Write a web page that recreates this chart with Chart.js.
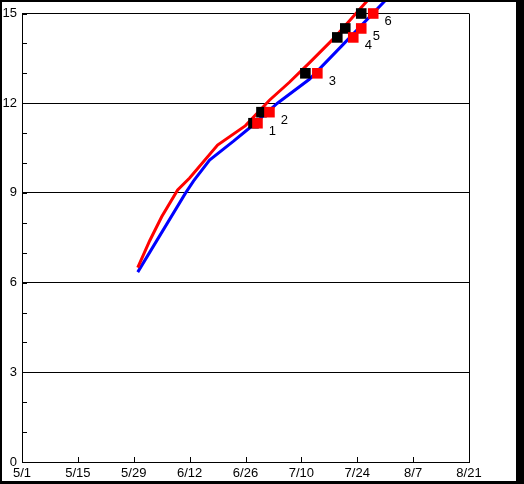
<!DOCTYPE html>
<html>
<head>
<meta charset="utf-8">
<script src="https://cdn.jsdelivr.net/npm/chart.js@4"></script>
<style>
  html, body { margin: 0; padding: 0; background: #000; }
  #chart { position: absolute; left: 2px; top: 2px; background: #fff; }
</style>
</head>
<body>
<canvas id="chart" width="514" height="479"></canvas>
<script>
// x axis runs in days counted from 5/1
const xTicks = ['5/1', '5/15', '5/29', '6/12', '6/26', '7/10', '7/24', '8/7', '8/21'];
const yTicks = [0, 3, 6, 9, 12, 15];

const blueDates = ['5/30', '6/11', '6/13', '6/17', '6/23', '6/27', '7/4', '7/12', '7/20', '8/1'];
const blueValues = [6.35, 9.0, 9.4, 10.1, 10.73, 11.17, 12.0, 12.8, 13.9, 15.57];

const redDates = ['5/30', '6/2', '6/5', '6/9', '6/12', '6/19', '6/26', '7/2', '7/7', '7/12', '7/18', '7/28'];
const redValues = [6.5, 7.4, 8.2, 9.1, 9.5, 10.6, 11.25, 12.1, 12.7, 13.35, 14.15, 15.65];

const blackMarkDates = ['6/28', '6/30', '7/11', '7/19', '7/21', '7/25'];
const redMarkDates = ['6/29', '7/2', '7/14', '7/23', '7/25', '7/28'];
const markValues = [11.33, 11.7, 13.0, 14.2, 14.5, 15.0];
const markLabels = ['1', '2', '3', '4', '5', '6'];

const monthStart = { 5: -1, 6: 30, 7: 60, 8: 91 };
function toDay(s) {
  const p = s.split('/');
  return monthStart[+p[0]] + (+p[1]);
}
function pts(dates, vals) {
  return dates.map((d, i) => ({ x: toDay(d), y: vals[i] }));
}

const font = { family: 'Liberation Sans', size: 13, lineHeight: 1 };

// short tick marks drawn inside the plot, and the number labels next to the red squares
const innerTicks = {
  id: 'innerTicks',
  afterDatasetsDraw(chart) {
    const ctx = chart.ctx, a = chart.chartArea;
    const xs = chart.scales.x, ys = chart.scales.y;
    ctx.save();
    ctx.strokeStyle = '#000';
    ctx.lineWidth = 1;
    ctx.beginPath();
    for (let v = 0; v <= 15; v++) {
      const y = Math.round(ys.getPixelForValue(v)) + 0.5;
      ctx.moveTo(a.left, y); ctx.lineTo(a.left + 5, y);
    }
    for (let i = 0; i < xTicks.length; i++) {
      const x = Math.round(xs.getPixelForValue(i * 14)) + 0.5;
      ctx.moveTo(x, a.bottom); ctx.lineTo(x, a.bottom - 5);
    }
    ctx.stroke();
    const meta = chart.getDatasetMeta(3);
    ctx.fillStyle = '#000';
    ctx.font = '13px "Liberation Sans"';
    ctx.textAlign = 'center';
    ctx.textBaseline = 'middle';
    meta.data.forEach((p, i) => {
      ctx.fillText(markLabels[i], p.x + 15, p.y + 8);
    });
    ctx.restore();
  }
};

new Chart(document.getElementById('chart').getContext('2d'), {
  type: 'scatter',
  data: {
    datasets: [{
      data: pts(blueDates, blueValues),
      showLine: true,
      borderColor: '#0000ff',
      borderWidth: 3,
      pointRadius: 0,
      clip: false,
      order: 4
    }, {
      data: pts(redDates, redValues),
      showLine: true,
      borderColor: '#ff0000',
      borderWidth: 3,
      pointRadius: 0,
      clip: false,
      order: 3
    }, {
      data: pts(blackMarkDates, markValues),
      pointStyle: 'rect',
      pointRadius: 7.5,
      backgroundColor: '#000',
      borderWidth: 0,
      clip: false,
      order: 2
    }, {
      data: pts(redMarkDates, markValues),
      pointStyle: 'rect',
      pointRadius: 7.5,
      backgroundColor: '#ff0000',
      borderWidth: 0,
      clip: false,
      order: 1
    }]
  },
  options: {
    responsive: false,
    animation: false,
    events: [],
    layout: { padding: { top: 10, right: 47, left: 0, bottom: 0 } },
    plugins: { legend: { display: false }, tooltip: { enabled: false } },
    scales: {
      x: {
        type: 'linear',
        min: 0,
        max: 112,
        afterBuildTicks: s => { s.ticks = xTicks.map((t, i) => ({ value: i * 14 })); },
        afterFit: s => { s.height = 19; },
        ticks: {
          autoSkip: false,
          maxRotation: 0,
          padding: 5,
          color: '#000',
          font: font,
          callback: (v, i) => xTicks[i]
        },
        grid: {
          drawTicks: false,
          color: c => (c.tick && c.tick.value === 112 ? '#000' : 'rgba(0,0,0,0)')
        },
        border: { color: '#000', width: 1 }
      },
      y: {
        min: 0,
        max: 15,
        afterBuildTicks: s => { s.ticks = yTicks.map(v => ({ value: v })); },
        afterFit: s => { s.width = 20; },
        ticks: {
          autoSkip: false,
          padding: 5,
          color: '#000',
          font: font
        },
        grid: {
          drawTicks: false,
          color: c => (c.tick && c.tick.value > 0 ? '#000' : 'rgba(0,0,0,0)')
        },
        border: { color: '#000', width: 1 }
      }
    }
  },
  plugins: [innerTicks]
});
</script>
</body>
</html>
